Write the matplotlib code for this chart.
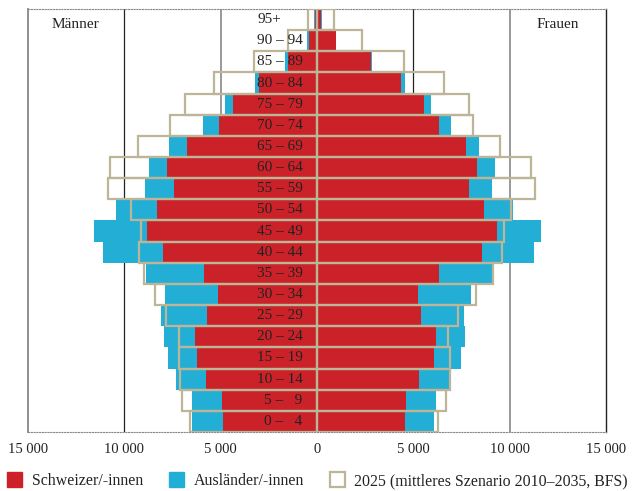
import numpy as np
import matplotlib
matplotlib.use("Agg")
import matplotlib.pyplot as plt
from matplotlib.patches import Patch

plt.rcParams['font.family'] = ['Liberation Serif', 'DejaVu Serif']

ages = ["0 – \u20074", "5 – \u20079", "10 – 14", "15 – 19", "20 – 24", "25 – 29", "30 – 34",
        "35 – 39", "40 – 44", "45 – 49", "50 – 54", "55 – 59", "60 – 64", "65 – 69",
        "70 – 74", "75 – 79", "80 – 84", "85 – 89", "90 – 94", "95+"]

# men
men_swiss = [4850, 4900, 5750, 6200, 6350, 5700, 5150, 5850, 8000, 8800,
             8300, 7400, 7800, 6750, 5100, 4350, 3000, 1500, 420, 80]
men_foreign = [1650, 1600, 1550, 1500, 1600, 2400, 2750, 3000, 3100, 2750,
               2100, 1500, 900, 900, 800, 400, 200, 150, 80, 50]
men_2025 = [6600, 7000, 7100, 7150, 7150, 7850, 8400, 8950, 9250, 9150,
            9650, 10850, 10750, 9300, 7600, 6850, 5350, 3250, 1500, 480]

# women
women_swiss = [4550, 4600, 5300, 6050, 6150, 5400, 5250, 6350, 8550, 9350,
               8650, 7900, 8300, 7700, 6300, 5550, 4350, 2800, 960, 200]
women_foreign = [1500, 1550, 1550, 1400, 1500, 2200, 2750, 2750, 2700, 2250,
                 1500, 1150, 950, 700, 650, 350, 200, 50, 40, 70]
women_2025 = [6250, 6700, 6900, 6900, 6800, 7300, 8250, 9150, 9600, 9700,
              10050, 11300, 11100, 9500, 8100, 7900, 6600, 4500, 2350, 900]

xticks = [-15000, -10000, -5000, 0, 5000, 10000, 15000]
xticklabels = ["15 000", "10 000", "5 000", "0", "5 000", "10 000", "15 000"]

red = "#CB2229"
blue = "#22AED5"
beige = "#BDB598"

y = np.arange(len(ages))
men_swiss = np.array(men_swiss)
men_foreign = np.array(men_foreign)
women_swiss = np.array(women_swiss)
women_foreign = np.array(women_foreign)

fig = plt.figure(figsize=(6.34, 4.91), dpi=100)
ax = fig.add_axes([0.0437, 0.1202, 0.9126, 0.8615])

# vertical guide lines
for xv, c, lw in [(-10000, "#222222", 0.9), (-5000, "#888888", 1.2),
                  (5000, "#222222", 0.9), (10000, "#888888", 1.2)]:
    ax.axvline(xv, color=c, lw=lw, zorder=0)

ax.barh(y, -men_swiss, height=1.0, color=red, zorder=2)
ax.barh(y, -men_foreign, left=-men_swiss, height=1.0, color=blue, zorder=2)
ax.barh(y, women_swiss, height=1.0, color=red, zorder=2)
ax.barh(y, women_foreign, left=women_swiss, height=1.0, color=blue, zorder=2)

ax.barh(y, -np.array(men_2025), height=1.0, facecolor="none", edgecolor=beige, linewidth=1.6, zorder=3)
ax.barh(y, women_2025, height=1.0, facecolor="none", edgecolor=beige, linewidth=1.6, zorder=3)

for i, lab in enumerate(ages):
    ax.text(-750 if i < 19 else -1840, i, lab, ha="right", va="center",
            fontsize=11, color="#222222", zorder=5)

ax.text(-12550, 18.75, "Männer", ha="center", va="center", fontsize=11, color="#222222")
ax.text(12480, 18.75, "Frauen", ha="center", va="center", fontsize=11, color="#222222")

ax.set_xlim(-15000, 15000)
ax.set_ylim(-0.5, 19.5)
ax.set_yticks([])
ax.set_xticks(xticks, xticklabels, fontsize=10.5, color="#222222")
ax.tick_params(axis="x", length=0, pad=8)

ax.spines["left"].set_color("#888888")
ax.spines["left"].set_linewidth(1.3)
ax.spines["right"].set_color("#222222")
ax.spines["right"].set_linewidth(1.0)
for s in ["top", "bottom"]:
    ax.spines[s].set_linestyle((0, (1, 1.5)))
    ax.spines[s].set_color("#888888")
    ax.spines[s].set_linewidth(0.8)

handles = [Patch(facecolor=red, edgecolor=red),
           Patch(facecolor=blue, edgecolor=blue),
           Patch(facecolor="white", edgecolor=beige, linewidth=1.6)]
labels = ["Schweizer/-innen", "Ausländer/-innen", "2025 (mittleres Szenario 2010–2035, BFS)"]
fig.legend(handles, labels, loc="center left", bbox_to_anchor=(0.011, 0.021), ncol=3,
           frameon=False, fontsize=11.4, handlelength=0.95, handleheight=1.05, borderpad=0,
           borderaxespad=0, handletextpad=0.6, columnspacing=1.65, labelcolor="#222222")

fig.savefig("out.png", dpi=100)
